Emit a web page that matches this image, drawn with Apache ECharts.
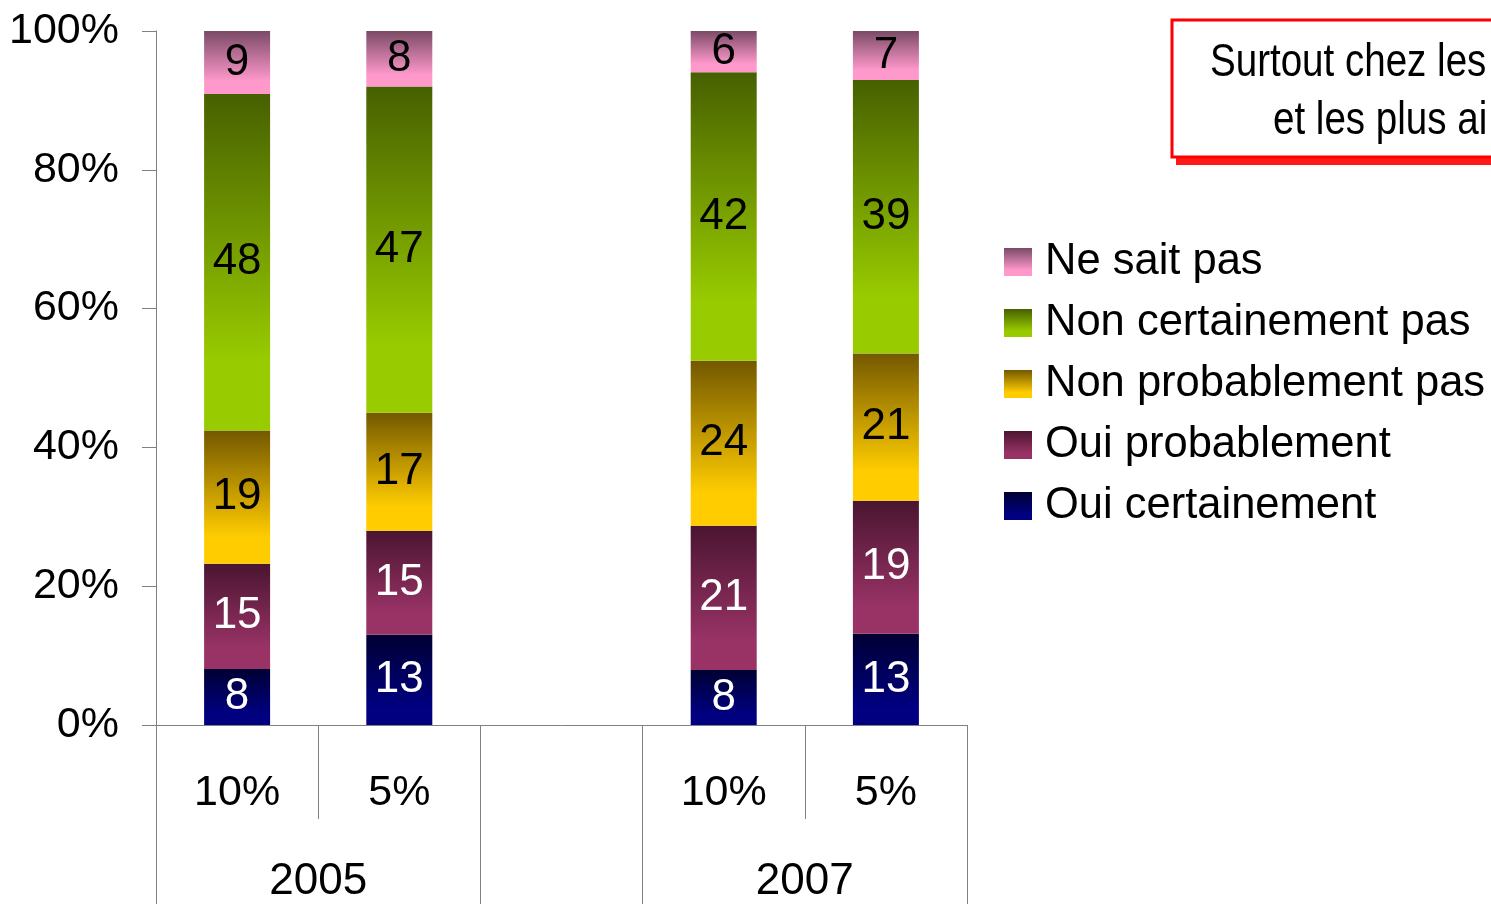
<!DOCTYPE html>
<html>
<head>
<meta charset="utf-8">
<title>Sondage 2005 / 2007</title>
<script src="https://cdn.jsdelivr.net/npm/echarts@6/dist/echarts.min.js"></script>
<style>
  html, body { margin: 0; padding: 0; background: #fff; }
  #chart { width: 1491px; height: 904px; }
</style>
</head>
<body>
<div id="chart"></div>
<script>
// categories (blank slot = gap between the two years)
const categories = ['10%', '5%', '', '10%', '5%']
const groups = ['2005', '2007']
const groupSpans = [[0, 2], [3, 5]]

// printed values per answer, bottom to top of each bar
const ouiCertainement = [8, 13, null, 8, 13]
const ouiProbablement = [15, 15, null, 21, 19]
const nonProbablement = [19, 17, null, 24, 21]
const nonCertainement = [48, 47, null, 42, 39]
const neSaitPas = [9, 8, null, 6, 7]

const seriesDefs = [
  { name: 'Oui certainement', values: ouiCertainement, top: '#000033', bottom: '#000080', text: '#fff' },
  { name: 'Oui probablement', values: ouiProbablement, top: '#4a1530', bottom: '#993366', text: '#fff' },
  { name: 'Non probablement pas', values: nonProbablement, top: '#735800', bottom: '#ffcc00', text: '#000' },
  { name: 'Non certainement pas', values: nonCertainement, top: '#476000', bottom: '#99cc00', text: '#000' },
  { name: 'Ne sait pas', values: neSaitPas, top: '#7a4a66', bottom: '#ff99cc', text: '#000' }
]

// 100% stacked: share of each answer in its bar
const totals = categories.map((c, i) =>
  seriesDefs.reduce((s, d) => s + (d.values[i] || 0), 0)
)

function grad(top, bottom) {
  return new echarts.graphic.LinearGradient(0, 0, 0, 1, [
    { offset: 0, color: top },
    { offset: 0.8, color: bottom },
    { offset: 1, color: bottom }
  ])
}

const font = 'Arial, "Liberation Sans", sans-serif'
const grey = '#808080'

const option = {
  animation: false,
  textStyle: { fontFamily: font, color: '#000' },
  grid: { left: 156, right: 524, top: 31, bottom: 178 },
  legend: {
    orient: 'vertical',
    left: 1004,
    top: 240,
    padding: 0,
    itemWidth: 28,
    itemHeight: 28,
    itemGap: 17,
    icon: 'rect',
    data: seriesDefs.map(d => d.name).reverse(),
    textStyle: { fontSize: 43.5, lineHeight: 42, color: '#000', fontFamily: font, padding: [0, 0, 0, 8] }
  },
  xAxis: [
    {
      type: 'category',
      data: categories,
      axisLine: { lineStyle: { color: grey, width: 1 } },
      axisTick: { show: true, interval: 0, length: 94, lineStyle: { color: grey } },
      axisLabel: { interval: 0, fontSize: 43, margin: 47, color: '#000' }
    },
    {
      type: 'value',
      position: 'bottom',
      min: 0,
      max: categories.length,
      axisLine: { show: false },
      splitLine: { show: false },
      axisTick: {
        show: true,
        length: 180,
        customValues: [0, 2, 3, 5],
        lineStyle: { color: grey }
      },
      axisLabel: {
        fontSize: 44,
        margin: 135,
        color: '#000',
        customValues: groupSpans.map(s => (s[0] + s[1]) / 2),
        formatter: v => {
          const k = groupSpans.findIndex(s => (s[0] + s[1]) / 2 === v)
          return k >= 0 ? groups[k] : ''
        }
      }
    }
  ],
  yAxis: {
    type: 'value',
    min: 0,
    max: 100,
    interval: 20,
    axisLine: { show: true, lineStyle: { color: grey, width: 1 } },
    axisTick: { show: true, length: 14, lineStyle: { color: grey } },
    splitLine: { show: false },
    axisLabel: { fontSize: 43, margin: 37, color: '#000', formatter: '{value}%' }
  },
  series: seriesDefs.map((d, si) => ({
    name: d.name,
    type: 'bar',
    stack: 'total',
    barWidth: 66,
    xAxisIndex: 0,
    itemStyle: { color: grad(d.top, d.bottom) },
    label: {
      show: true,
      position: 'inside',
      fontSize: 44,
      color: d.text,
      fontFamily: font,
      formatter: p => seriesDefs[si].values[p.dataIndex]
    },
    data: d.values.map((v, i) => (v == null ? '-' : (v / totals[i]) * 100))
  })),
  graphic: [
    {
      type: 'rect',
      shape: { x: 1176, y: 27, width: 400, height: 138 },
      style: { fill: '#ff1a1a' }
    },
    {
      type: 'rect',
      shape: { x: 1172, y: 20, width: 400, height: 137 },
      style: { fill: '#fff', stroke: '#ff0000', lineWidth: 3 }
    },
    {
      type: 'text',
      x: 1210,
      y: 63,
      scaleX: 0.82,
      style: {
        text: 'Surtout chez les',
        fontSize: 47,
        fontFamily: font,
        fill: '#000',
        verticalAlign: 'middle'
      }
    },
    {
      type: 'text',
      x: 1273,
      y: 121,
      scaleX: 0.82,
      style: {
        text: 'et les plus ai',
        fontSize: 47,
        fontFamily: font,
        fill: '#000',
        verticalAlign: 'middle'
      }
    }
  ]
}

const myChart = echarts.init(document.getElementById('chart'))
myChart.setOption(option)
</script>
</body>
</html>
